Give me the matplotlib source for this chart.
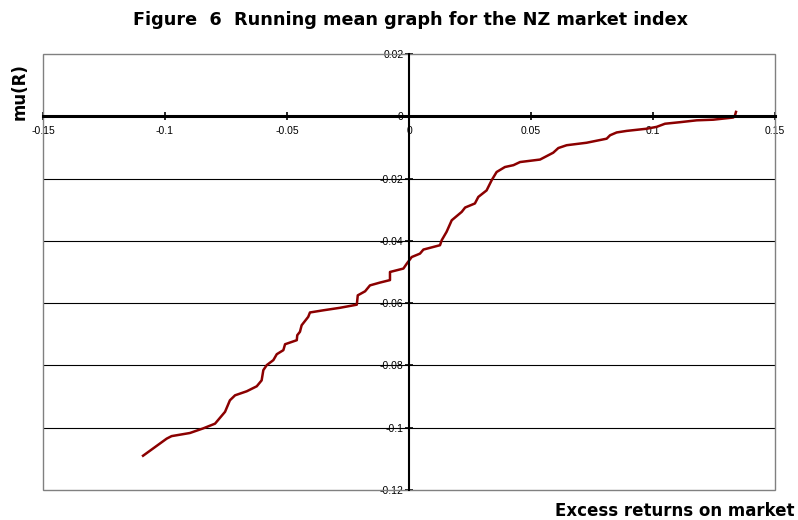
import matplotlib.pyplot as plt
from matplotlib.patches import Rectangle

plt.rcParams['font.family'] = ['Liberation Sans', 'DejaVu Sans']

# running mean curve
excess = [-0.109, -0.0993, -0.0973, -0.0898, -0.0843, -0.0795, -0.0754, -0.0734,
          -0.0713, -0.0665, -0.0624, -0.0604, -0.0597, -0.0583, -0.0556, -0.0542,
          -0.0515, -0.0508, -0.046, -0.0458, -0.0447, -0.044, -0.0413, -0.0406,
          -0.0351, -0.0283, -0.0214, -0.021, -0.018, -0.016, -0.0119, -0.0078,
          -0.0078, -0.0023, -0.0009, 0.0011, 0.0045, 0.0059, 0.0127, 0.0134,
          0.0154, 0.0175, 0.0216, 0.023, 0.027, 0.0284, 0.0318, 0.0339, 0.0359,
          0.0393, 0.0428, 0.0455, 0.0537, 0.0564, 0.0591, 0.0612, 0.0646, 0.0728,
          0.081, 0.0824, 0.0851, 0.0892, 0.0974, 0.1015, 0.1049, 0.1111, 0.1179,
          0.1247, 0.1329, 0.1336, 0.134]
mu_r = [-0.109, -0.1035, -0.1027, -0.1017, -0.1002, -0.0987, -0.0949, -0.0912,
        -0.0896, -0.0883, -0.0867, -0.0848, -0.0815, -0.0799, -0.0783, -0.0764,
        -0.0751, -0.0732, -0.0719, -0.0703, -0.0692, -0.0671, -0.0644, -0.063,
        -0.0623, -0.0615, -0.0605, -0.0575, -0.0562, -0.0543, -0.0534, -0.0526,
        -0.05, -0.0489, -0.0473, -0.0452, -0.0441, -0.0428, -0.0414, -0.0398,
        -0.0371, -0.0334, -0.0307, -0.0293, -0.028, -0.0259, -0.0238, -0.0205,
        -0.0179, -0.0163, -0.0157, -0.0147, -0.0139, -0.0128, -0.0117, -0.0102,
        -0.0093, -0.0085, -0.0072, -0.0061, -0.0052, -0.0047, -0.004, -0.0034,
        -0.0024, -0.0019, -0.0013, -0.0011, -0.0004, 0.0003, 0.0014]

xticks = [-0.15, -0.1, -0.05, 0, 0.05, 0.1, 0.15]
xlabels = ['-0.15', '-0.1', '-0.05', '0', '0.05', '0.1', '0.15']
yticks = [0.02, 0, -0.02, -0.04, -0.06, -0.08, -0.1, -0.12]
ylabels = ['0.02', '0', '-0.02', '-0.04', '-0.06', '-0.08', '-0.1', '-0.12']

fig = plt.figure(figsize=(7.98, 5.2), dpi=100)
ax = fig.add_axes([0.0539, 0.0577, 0.9173, 0.8385])

ax.set_xlim(-0.15, 0.15)
ax.set_ylim(-0.12, 0.02)

for g in yticks[2:-1]:
    ax.axhline(g, color='black', lw=0.8, zorder=1)

ax.plot(excess, mu_r, color='#8b0000', lw=1.8, zorder=3)

# outer grey box
ax.add_patch(Rectangle((0, 0), 1, 1, transform=ax.transAxes, fill=False,
                       edgecolor='#808080', lw=1, zorder=2, clip_on=False))
ax.spines['top'].set_visible(False)
ax.spines['right'].set_visible(False)
ax.spines['left'].set_position(('data', 0))
ax.spines['bottom'].set_position(('data', 0))
ax.spines['left'].set_linewidth(1.5)
ax.spines['bottom'].set_linewidth(2.2)
ax.spines['left'].set_zorder(4)
ax.spines['bottom'].set_zorder(4)

ax.set_xticks(xticks)
ax.set_xticklabels(xlabels)
ax.set_yticks(yticks)
ax.set_yticklabels(ylabels)
ax.tick_params(axis='both', labelsize=7.5, length=6, width=1.2, direction='inout', pad=1)
ax.tick_params(axis='x', pad=4)

bold = dict(fontweight='bold', family='DejaVu Sans')
fig.text(0.515, 0.962, 'Figure  6  Running mean graph for the NZ market index',
         ha='center', va='center', fontsize=12.7, **bold)
fig.text(0.024, 0.823, 'mu(R)', rotation=90, ha='center', va='center', fontsize=12, **bold)
fig.text(0.996, 0.018, 'Excess returns on market', ha='right', va='center', fontsize=12, **bold)

fig.savefig('out.png', dpi=100)
